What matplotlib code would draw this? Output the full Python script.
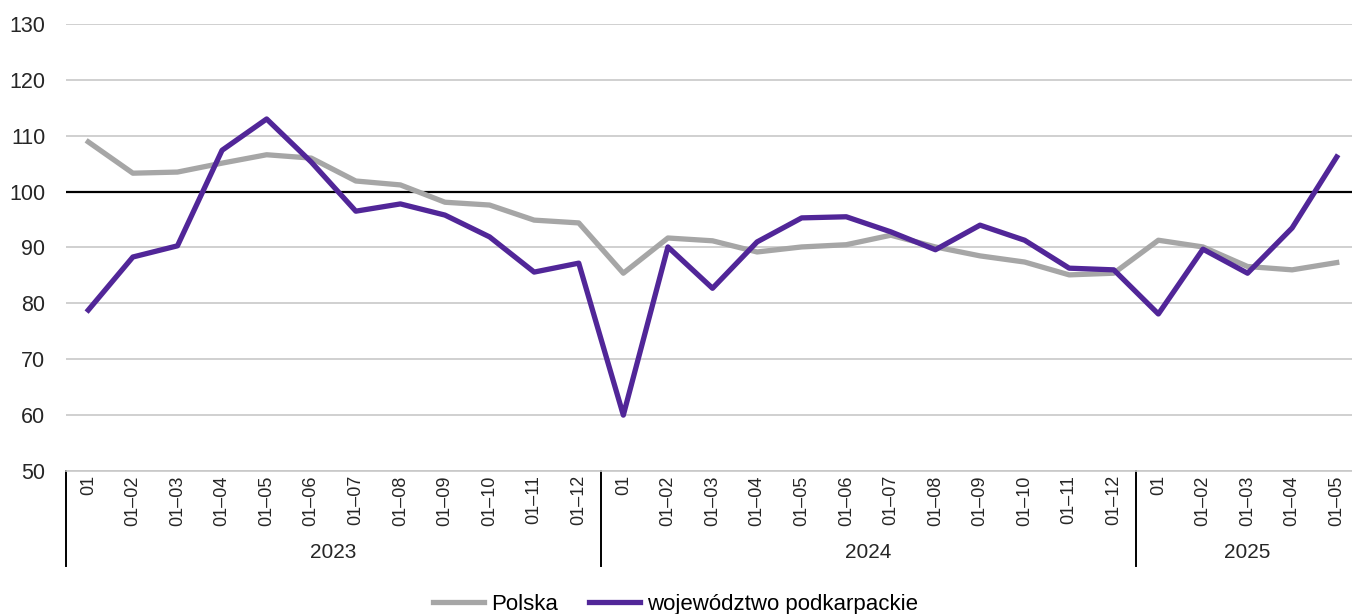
import matplotlib.pyplot as plt
import matplotlib.transforms as mtransforms
from matplotlib.lines import Line2D

plt.rcParams["font.family"] = ["Liberation Sans Narrow", "Liberation Sans", "DejaVu Sans"]

# Data
years = ["2023", "2024", "2025"]
months_per_year = [12, 12, 5]
periods = ["01"] + [f"01–{m:02d}" for m in range(2, 13)]
labels = periods + periods + periods[:5]

polska = [108.9, 103.3, 103.5, 105.1, 106.6, 106.0, 101.9, 101.2, 98.1, 97.6, 94.9, 94.4,
          85.4, 91.7, 91.2, 89.2, 90.1, 90.5, 92.2, 90.1, 88.5, 87.4, 85.1, 85.4,
          91.3, 90.1, 86.6, 86.0, 87.3]
podkarpackie = [78.8, 88.3, 90.3, 107.4, 113.0, 105.3, 96.5, 97.8, 95.8, 91.9, 85.6, 87.2,
                60.0, 90.1, 82.7, 91.0, 95.3, 95.5, 92.8, 89.6, 94.0, 91.3, 86.3, 86.0,
                78.1, 89.7, 85.4, 93.5, 106.2]

fig = plt.figure(figsize=(13.52, 6.14), dpi=100)
ax = fig.add_axes([66 / 1352, 1 - 471 / 614, (1359 - 66) / 1352, 447 / 614])

x = list(range(len(labels)))

# grid
ax.set_ylim(50, 130)
ax.set_yticks(range(50, 131, 10))
ax.yaxis.grid(True, color="#c8c8c8", linewidth=1.2)
ax.set_axisbelow(True)
ax.axhline(100, color="black", linewidth=1.6, zorder=2)

ax.plot(x, polska, color="#a6a6a6", linewidth=3.8, label="Polska", zorder=3)
ax.plot(x, podkarpackie, color="#512698", linewidth=3.8, label="województwo podkarpackie", zorder=4)

ax.set_xlim(-0.5, len(labels) - 0.5)
ax.set_xticks(x)
ax.set_xticklabels(labels, rotation=90, fontsize=13, va="top")
ax.tick_params(axis="x", length=0, pad=3)
ax.tick_params(axis="y", length=0, labelsize=15.5, pad=15)
for lbl in ax.get_xticklabels() + ax.get_yticklabels():
    lbl.set_color("#262626")

for side in ["top", "right", "left"]:
    ax.spines[side].set_visible(False)
ax.spines["bottom"].set_color("#c8c8c8")
ax.spines["bottom"].set_linewidth(1.2)

# year groups with separators
trans = mtransforms.blended_transform_factory(ax.transData, ax.transAxes)
start = 0
for year, n in zip(years, months_per_year):
    ax.add_line(Line2D([start - 0.5, start - 0.5], [0, -95 / 447], transform=trans,
                       color="black", linewidth=1.4, clip_on=False))
    ax.text(start + (n - 1) / 2, -81 / 447, year, transform=trans, ha="center",
            va="center", fontsize=15, color="#262626")
    start += n

ax.legend(loc="lower center", bbox_to_anchor=(0.5 - 37 / 1293, -153 / 447), ncol=2,
          frameon=False, fontsize=16, handlelength=2.3, handletextpad=0.3,
          columnspacing=1.4, borderaxespad=0)

fig.savefig("out.png", dpi=100)
